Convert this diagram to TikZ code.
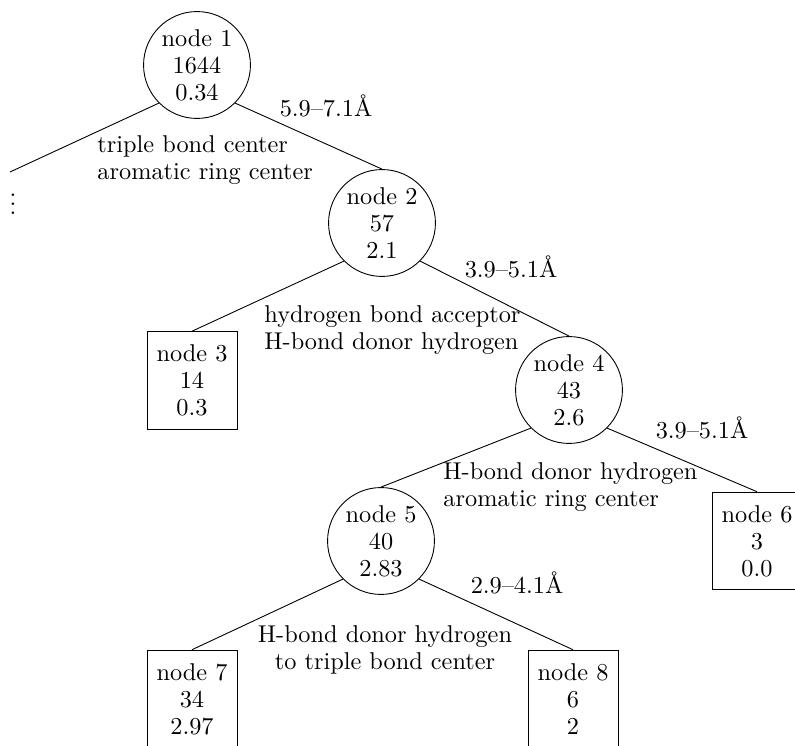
\documentclass[tikz,border=0pt]{standalone}
\begin{document}
\begin{tikzpicture}[x=0.4444pt,y=-0.4444pt,
    every node/.style={font=\fontsize{10.8}{12}\selectfont},
    split/.style={circle,draw,align=center,minimum size=47.5pt,inner sep=1pt},
    leaf/.style={rectangle,draw,align=center,minimum width=40pt,minimum height=43.4pt,inner sep=1pt},
    rule/.style={align=left,inner sep=0pt,anchor=west},
    dist/.style={inner sep=0pt}]
  \useasboundingbox (0,0) rectangle (795,746);
  \clip (0,0) rectangle (795,746);
  % split nodes
  \node[split] (n1) at (197,65) {node 1\\1644\\0.34};
  \node[split] (n2) at (382,223) {node 2\\57\\2.1};
  \node[split] (n4) at (569,390) {node 4\\43\\2.6};
  \node[split] (n5) at (381,541) {node 5\\40\\2.83};
  % leaves
  \node[leaf] (n3) at (192,380.5) {node 3\\14\\0.3};
  \node[leaf] (n6) at (757,541) {node 6\\3\\0.0};
  \node[leaf] (n7) at (192,699) {node 7\\34\\2.97};
  \node[leaf] (n8) at (573,699) {node 8\\6\\2};
  \coordinate (cut) at (10,172);
  \node[inner sep=0pt] (more) at (13,197) {$\vdots$};
  % edges
  \draw (n1.south west) -- (cut);
  \draw (n1.south east) -- (n2.north);
  \draw (n2.south west) -- (n3.north);
  \draw (n2.south east) -- (n4.north);
  \draw (n4.south west) -- (n5.north);
  \draw (n4.south east) -- (n6.north);
  \draw (n5.south west) -- (n7.north);
  \draw (n5.south east) -- (n8.north);
  % rules and distances
  \node[rule] (r1) at (97,160) {triple bond center\\aromatic ring center};
  \node[rule] (r2) at (264,330) {hydrogen bond acceptor\\H-bond donor hydrogen};
  \node[rule] (r4) at (443,487) {H-bond donor hydrogen\\aromatic ring center};
  \node[align=center,inner sep=0pt] (r5) at (385,650) {H-bond donor hydrogen\\to triple bond center};
  \node[dist] (d1) at (326,106) {5.9--7.1\AA};
  \node[dist] (d2) at (511,267) {3.9--5.1\AA};
  \node[dist] (d4) at (702,428) {3.9--5.1\AA};
  \node[dist] (d5) at (517,583) {2.9--4.1\AA};
\end{tikzpicture}
\end{document}
